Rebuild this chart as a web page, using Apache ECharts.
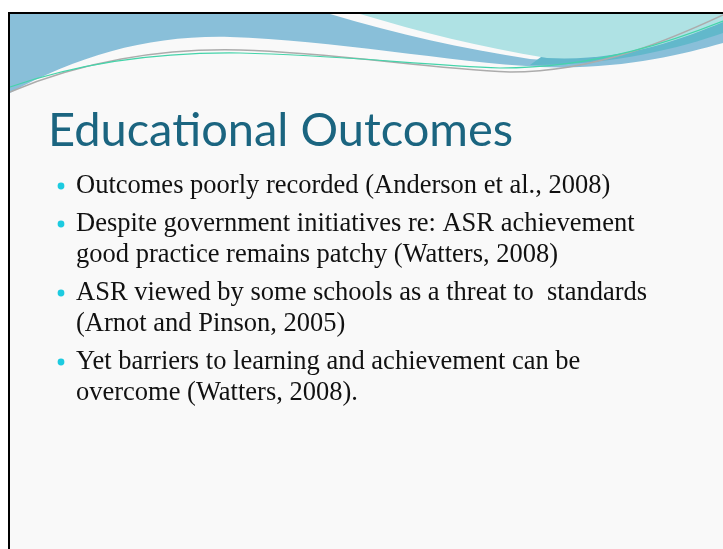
<!DOCTYPE html>
<html>
<head>
<meta charset="utf-8">
<script src="https://cdn.jsdelivr.net/npm/echarts@6/dist/echarts.min.js"></script>
<style>html,body{margin:0;padding:0;background:#ffffff;}#c{width:723px;height:549px;}</style>
</head>
<body>
<div id="c"></div>
<script>
var titleText = "Educational Outcomes";
var bulletParagraphs = [
  ["Outcomes poorly recorded (Anderson et al., 2008)"],
  ["Despite government initiatives re: ASR achievement", "good practice remains patchy (Watters, 2008)"],
  ["ASR viewed by some schools as a threat to  standards", "(Arnot and Pinson, 2005)"],
  ["Yet barriers to learning and achievement can be", "overcome (Watters, 2008)."]
];

var chart = echarts.init(document.getElementById('c'), null, {renderer: 'canvas'});

function renderDecor() {
  return {
    type: 'group',
    children: [
      {type: 'rect', shape: {x: 9, y: 13, width: 720, height: 540}, style: {fill: '#f9f9f9'}},
      {type: 'path', shape: {pathData: 'M10,14 L723,14 L723,43 C680,55 620,70 540,67 C450,62 330,40 230,37 C150,35 80,55 10,93 Z'}, style: {fill: '#89bfd9'}},
      {type: 'path', shape: {pathData: 'M330,14 C400,35 460,48 530,59 C600,66 680,45 723,25 L723,14 Z'}, style: {fill: '#f9f9f9'}},
      {type: 'path', shape: {pathData: 'M530,65 C610,66 680,48 723,33 L723,14 L600,14 Z'}, style: {fill: '#62b8cb'}},
      {type: 'path', shape: {pathData: 'M360,14 C420,32 480,47 547,58 C620,62 680,40 723,22 L723,14 Z'}, style: {fill: '#afe2e4'}},
      {type: 'path', shape: {pathData: 'M10,92 C80,62 160,48 240,50 C340,53 420,68 510,72 C600,72 680,35 723,15'}, style: {fill: null, stroke: '#acacac', lineWidth: 1.4}},
      {type: 'path', shape: {pathData: 'M10,87 C80,63 160,52 240,53 C340,55 420,65 500,68 C600,68 680,38 723,21'}, style: {fill: null, stroke: '#45d4aa', lineWidth: 1.2}},
      {type: 'rect', shape: {x: 8, y: 12, width: 715, height: 2}, style: {fill: '#000000'}},
      {type: 'rect', shape: {x: 8, y: 12, width: 2, height: 537}, style: {fill: '#000000'}}
    ]
  };
}

var els = [];
els.push({type: 'text', style: {text: titleText, x: 48, y: 131, font: '47px Lato', fill: '#1b6580', verticalAlign: 'middle'}, z: 100});
var y = 185;
bulletParagraphs.forEach(function (para) {
  els.push({type: 'circle', shape: {cx: 61, cy: y + 1, r: 3.4}, style: {fill: '#1dcbe0'}, z: 100});
  para.forEach(function (line, li) {
    els.push({type: 'text', style: {text: line, x: 76, y: y + 1 + li * 31, font: '26.5px "Liberation Serif"', fill: '#111111', verticalAlign: 'middle'}, z: 100});
  });
  y += para.length * 31 + 7;
});

chart.setOption({
  animation: false,
  series: [{type: 'custom', coordinateSystem: 'none', data: [0], renderItem: renderDecor, silent: true, z: 1}],
  graphic: {elements: els}
});
</script>
</body>
</html>
